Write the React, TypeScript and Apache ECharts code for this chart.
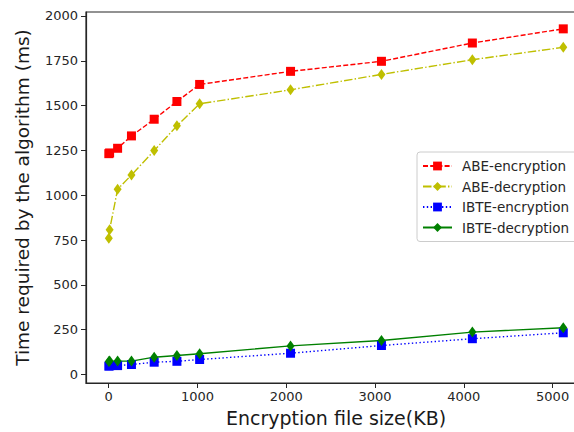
import React, { useEffect, useRef } from "react";
import * as echarts from "echarts";

const fileSizes = [1, 10, 100, 256, 512, 768, 1024, 2048, 3072, 4096, 5120];
const abeEncryption = [1232, 1236, 1262, 1331, 1424, 1523, 1618, 1691, 1747, 1849, 1928];
const abeDecryption = [760, 808, 1033, 1113, 1249, 1387, 1510, 1588, 1674, 1756, 1825];
const ibteEncryption = [47, 49, 50, 56, 69, 74, 84, 119, 162, 200, 233];
const ibteDecryption = [73, 75, 75, 75, 97, 106, 116, 160, 190, 237, 261];
const xTicks = [0, 1000, 2000, 3000, 4000, 5000];
const yTicks = [0, 250, 500, 750, 1000, 1250, 1500, 1750, 2000];

const FONT = "DejaVu Sans";

function pairs(ys: number[]) {
  return fileSizes.map((x, i) => [x, ys[i]]);
}

export default function App() {
  const ref = useRef<HTMLDivElement>(null);
  useEffect(() => {
    if (!ref.current) return;
    const chart = echarts.init(ref.current, null, { renderer: "svg" });
    chart.setOption({
      animation: false,
      backgroundColor: "#ffffff",
      textStyle: { fontFamily: FONT },
      grid: {
        left: 86,
        top: 12,
        width: 500,
        height: 371,
        show: true,
        borderColor: "#262626",
        borderWidth: 1.2,
        backgroundColor: "transparent",
        containLabel: false,
        outerBoundsMode: "none",
      },
      xAxis: {
        type: "value",
        min: -256,
        max: 5376,
        name: "Encryption file size(KB)",
        nameLocation: "middle",
        nameGap: 25,
        nameTextStyle: { fontSize: 19, color: "#1a1a1a", fontFamily: FONT },
        axisLine: { show: true, onZero: false, lineStyle: { color: "#262626", width: 1.2 } },
        axisTick: { show: true, length: 5, customValues: xTicks, lineStyle: { color: "#262626" } },
        axisLabel: {
          customValues: xTicks,
          formatter: (v: number) => String(v),
          fontSize: 13,
          color: "#262626",
          margin: 7,
          fontFamily: FONT,
        },
        splitLine: { show: false },
      },
      yAxis: {
        type: "value",
        min: -47,
        max: 2022,
        name: "Time required by the algorithm (ms)",
        nameLocation: "middle",
        nameGap: 54,
        nameTextStyle: { fontSize: 18.5, color: "#1a1a1a", fontFamily: FONT },
        axisLine: { show: true, onZero: false, lineStyle: { color: "#262626", width: 1.2 } },
        axisTick: { show: true, length: 5, customValues: yTicks, lineStyle: { color: "#262626" } },
        axisLabel: {
          customValues: yTicks,
          formatter: (v: number) => String(v),
          fontSize: 13,
          color: "#262626",
          margin: 8,
          fontFamily: FONT,
        },
        splitLine: { show: false },
      },
      legend: {
        orient: "vertical",
        left: 417,
        top: 152,
        padding: [7, 8, 7, 5],
        itemGap: 6.5,
        itemWidth: 29,
        itemHeight: 11,
        backgroundColor: "#ffffff",
        borderColor: "#cccccc",
        borderWidth: 1,
        borderRadius: 3,
        textStyle: { fontSize: 13.5, color: "#262626", fontFamily: FONT, padding: [0, 0, 0, 5] },
        data: ["ABE-encryption", "ABE-decryption", "IBTE-encryption", "IBTE-decryption"],
      },
      series: [
        {
          name: "ABE-encryption",
          type: "line",
          data: pairs(abeEncryption),
          symbol: "rect",
          symbolSize: 9,
          color: "#ff0000",
          lineStyle: { color: "#ff0000", width: 1.4, type: [5, 2.2] },
          itemStyle: { color: "#ff0000" },
        },
        {
          name: "ABE-decryption",
          type: "line",
          data: pairs(abeDecryption),
          symbol: "diamond",
          symbolSize: [8, 11],
          color: "#bfbf00",
          lineStyle: { color: "#bfbf00", width: 1.4, type: [8.5, 2.2, 1.4, 2.2] },
          itemStyle: { color: "#bfbf00" },
        },
        {
          name: "IBTE-encryption",
          type: "line",
          data: pairs(ibteEncryption),
          symbol: "rect",
          symbolSize: 9,
          color: "#0000ff",
          lineStyle: { color: "#0000ff", width: 1.4, type: [1.4, 2.4] },
          itemStyle: { color: "#0000ff" },
        },
        {
          name: "IBTE-decryption",
          type: "line",
          data: pairs(ibteDecryption),
          symbol: "diamond",
          symbolSize: [8, 11],
          color: "#008000",
          lineStyle: { color: "#008000", width: 1.4, type: "solid" },
          itemStyle: { color: "#008000" },
        },
      ],
    });
    return () => chart.dispose();
  }, []);
  return (
    <div
      ref={ref}
      style={{ position: "fixed", left: 0, top: 0, width: 574, height: 432, background: "#fff" }}
    />
  );
}
